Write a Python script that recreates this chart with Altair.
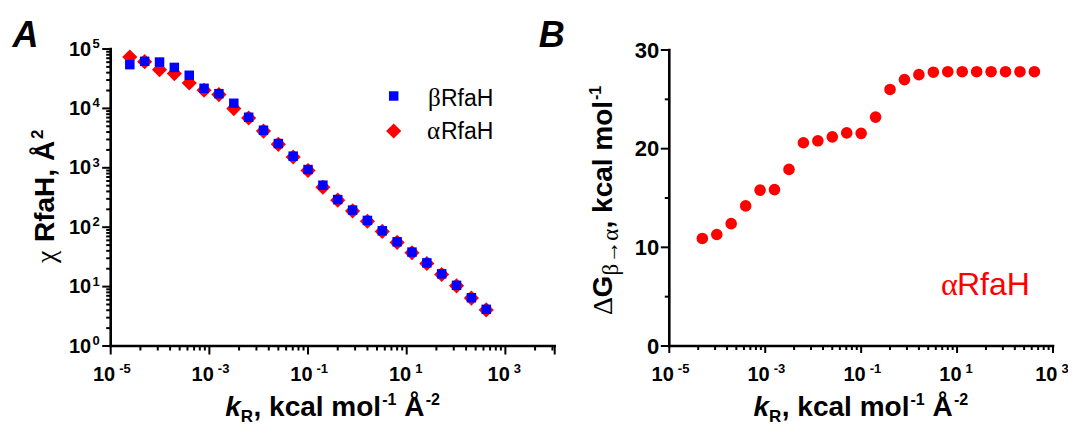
import altair as alt
import pandas as pd

# ---------------- data ----------------
kR = [2.44e-5, 4.88e-5, 9.77e-5, 1.95e-4, 3.91e-4, 7.81e-4, 1.56e-3, 3.13e-3,
      6.25e-3, 0.0125, 0.025, 0.05, 0.1, 0.2, 0.4, 0.8, 1.6, 3.2, 6.4, 12.8,
      25.6, 51.2, 102.4, 204.8, 409.6]
chi_beta = [54500, 62000, 60300, 49000, 36100, 21800, 17700, 12200, 7100, 4290,
            2560, 1570, 935, 510, 292, 194, 130, 87, 56.8, 38.1, 25.1, 16.4,
            10.5, 6.5, 4.14]
chi_alpha = [73300, 61200, 44900, 38500, 26800, 20200, 17100, 9930, 6900, 4150,
             2480, 1520, 900, 470, 285, 188, 126, 85, 55.5, 37.2, 24.5, 16.0,
             10.3, 6.4, 4.05]
kR_B = [4.88e-5, 9.77e-5, 1.95e-4, 3.91e-4, 7.81e-4, 1.56e-3, 3.13e-3,
        6.25e-3, 0.0125, 0.025, 0.05, 0.1, 0.2, 0.4, 0.8, 1.6, 3.2, 6.4, 12.8,
        25.6, 51.2, 102.4, 204.8, 409.6]
dG_alpha = [10.9, 11.3, 12.4, 14.2, 15.8, 15.85, 17.9, 20.6, 20.8, 21.2, 21.6,
            21.55, 23.2, 26.0, 27.0, 27.5, 27.75, 27.8, 27.8, 27.8, 27.8, 27.8,
            27.8, 27.8]

# tick values / labels
x_lab_vals = [1e-5, 1e-3, 1e-1, 1e1, 1e3]
x_lab_exp = ["-5", "-3", "-1", "1", "3"]
xA_major = [1e-5, 1e-3, 1e-1, 1e1, 1e3, 1e4]
xB_major = [1e-5, 1e-3, 1e-1, 1e1, 1e3]
minor_mult = [4, 9, 16, 25, 36, 49, 64, 81]
xA_minor = [b * m for b in [1e-5, 1e-3, 1e-1, 1e1, 1e3] for m in minor_mult if b * m < 1e4]
xB_minor = [b * m for b in [1e-5, 1e-3, 1e-1, 1e1] for m in minor_mult]
yA_major = [1, 10, 100, 1e3, 1e4, 1e5]
yA_exp = ["0", "1", "2", "3", "4", "5"]
yA_minor = [b * m for b in [1, 10, 100, 1e3, 1e4] for m in range(2, 10)]
yB_major = [0, 10, 20, 30]
yB_lab = ["0", "10", "20", "30"]
yB_minor = [5, 15, 25]

SANS = "Liberation Sans"
SERIF = "Liberation Serif"
RED = "#ff0000"
BLUE = "#0000ff"

# ---------------- scales (pixel ranges) ----------------
xA0, xA1, yA0, yA1 = 102.7, 546.7, 338, 41
xB0, xB1, yB0, yB1 = 661.3, 1045, 338, 42
xsA = alt.Scale(type="log", domain=[1e-5, 1e4], range=[xA0, xA1], nice=False)
ysA = alt.Scale(type="log", domain=[1, 1e5], range=[yA0, yA1], nice=False)
xsB = alt.Scale(type="log", domain=[1e-5, 1e3], range=[xB0, xB1], nice=False)
ysB = alt.Scale(type="linear", domain=[0, 30], range=[yB0, yB1], nice=False, zero=False)


def X(f, sc):
    return alt.X(f"{f}:Q", scale=sc, axis=None)


def Y(f, sc):
    return alt.Y(f"{f}:Q", scale=sc, axis=None)


def txt(s, x, y, size, weight="bold", font=SANS, style="normal", angle=0,
        color="black", align="left"):
    return alt.Chart(pd.DataFrame({"t": [s]})).mark_text(
        font=font, fontSize=size, fontWeight=weight, fontStyle=style,
        angle=angle, align=align, baseline="alphabetic", color=color
    ).encode(text="t:N", x=alt.value(x), y=alt.value(y))


def xticks(vals, sc, y0, ln, w=2):
    return alt.Chart(pd.DataFrame({"v": vals})).mark_rule(
        color="black", strokeWidth=w).encode(
        x=X("v", sc), y=alt.value(y0), y2=alt.value(y0 + ln))


def yticks(vals, sc, x0, ln, w=2):
    return alt.Chart(pd.DataFrame({"v": vals})).mark_rule(
        color="black", strokeWidth=w).encode(
        y=Y("v", sc), x=alt.value(x0 - ln), x2=alt.value(x0))


def xaxis_line(a, b, sc, y0):
    return alt.Chart(pd.DataFrame({"a": [a], "b": [b]})).mark_rule(
        color="black", strokeWidth=2.6, strokeCap="square").encode(
        x=X("a", sc), x2="b:Q", y=alt.value(y0))


def yaxis_line(a, b, sc, x0):
    return alt.Chart(pd.DataFrame({"a": [a], "b": [b]})).mark_rule(
        color="black", strokeWidth=2.6, strokeCap="square").encode(
        y=Y("a", sc), y2="b:Q", x=alt.value(x0))


def xlabels(sc, ybase):
    d = pd.DataFrame({"v": x_lab_vals, "e": x_lab_exp})
    base = alt.Chart(d).mark_text(font=SANS, fontSize=20, fontWeight="bold",
                                  align="right", baseline="alphabetic", dx=4.5).encode(
        x=X("v", sc), y=alt.value(ybase + 35), text=alt.value("10"))
    sup = alt.Chart(d).mark_text(font=SANS, fontSize=13, fontWeight="bold",
                                 align="left", baseline="alphabetic", dx=8.5).encode(
        x=X("v", sc), y=alt.value(ybase + 26.5), text="e:N")
    return [base, sup]


def xtitle(S, yb):
    return [
        txt("k", S, yb, 28, style="italic"),
        txt("R", S + 15.5, yb + 6, 17),
        txt(", kcal mol", S + 28.3, yb, 28),
        txt("-1", S + 157, yb - 11, 16),
        txt("\u00c5", S + 179, yb, 28),
        txt("-2", S + 200.5, yb - 11, 16),
    ]


layers = []

# ======== Panel A ========
layers += [
    xaxis_line(1e-5, 1e4, xsA, yA0),
    yaxis_line(1, 1e5, ysA, xA0),
    xticks(xA_minor, xsA, yA0, 4.5),
    xticks(xA_major, xsA, yA0, 8.5),
    yticks(yA_minor, ysA, xA0, 4.5),
    yticks(yA_major, ysA, xA0, 8.5),
]
layers += xlabels(xsA, yA0)
dyA = pd.DataFrame({"v": yA_major, "e": yA_exp})
layers += [
    alt.Chart(dyA).mark_text(font=SANS, fontSize=20, fontWeight="bold",
                             align="right", baseline="alphabetic", dy=6.5).encode(
        y=Y("v", ysA), x=alt.value(xA0 - 19.5), text=alt.value("10")),
    alt.Chart(dyA).mark_text(font=SANS, fontSize=13, fontWeight="bold",
                             align="right", baseline="alphabetic", dy=-1).encode(
        y=Y("v", ysA), x=alt.value(xA0 - 11), text="e:N"),
]
dA = pd.DataFrame({"k": kR, "b": chi_beta, "a": chi_alpha})
layers += [
    alt.Chart(dA).mark_point(shape="diamond", filled=True, size=230, opacity=1,
                             color=RED, strokeWidth=0).encode(
        x=X("k", xsA), y=Y("a", ysA)),
    alt.Chart(dA).mark_point(shape="square", filled=True, size=90, opacity=1,
                             color=BLUE, strokeWidth=0).encode(
        x=X("k", xsA), y=Y("b", ysA)),
]
# legend
layers += [
    alt.Chart(pd.DataFrame({"t": ["\u03b2RfaH"]})).mark_point(
        shape="square", filled=True, size=90, opacity=1, color=BLUE, strokeWidth=0).encode(
        x=alt.value(385.7), y=alt.value(88)),
    alt.Chart(pd.DataFrame({"t": ["\u03b1RfaH"]})).mark_point(
        shape="diamond", filled=True, size=230, opacity=1, color=RED, strokeWidth=0).encode(
        x=alt.value(385.7), y=alt.value(123)),
    txt("\u03b2", 420, 98, 25, weight="normal", font=SERIF),
    txt("RfaH", 433, 98, 23, weight="normal"),
    txt("\u03b1", 419, 131.3, 25, weight="normal", font=SERIF),
    txt("RfaH", 433, 131.3, 23, weight="normal"),
]
# titles
layers += xtitle(217.2, 408)
layers += [
    txt("\u03c7", 46.5, 255, 28, weight="normal", font=SERIF, angle=270),
    txt("RfaH, \u00c5", 45.7, 234, 28, angle=270),
    txt("2", 34.5, 131, 17, angle=270),
    txt("A", 4.5, 38.7, 36, style="italic"),
]

# ======== Panel B ========
layers += [
    xaxis_line(1e-5, 1e3, xsB, yB0),
    yaxis_line(0, 30, ysB, xB0),
    xticks(xB_minor, xsB, yB0, 4),
    xticks(xB_major, xsB, yB0, 7),
    yticks(yB_minor, ysB, xB0, 4.5),
    yticks(yB_major, ysB, xB0, 8.5),
]
layers += xlabels(xsB, yB0)
layers += [
    alt.Chart(pd.DataFrame({"v": yB_major, "t": yB_lab})).mark_text(
        font=SANS, fontSize=22, fontWeight="bold", align="right",
        baseline="alphabetic", dy=7.5).encode(
        y=Y("v", ysB), x=alt.value(xB0 - 10), text="t:N"),
]
dB = pd.DataFrame({"k": kR_B, "g": dG_alpha})
layers += [
    alt.Chart(dB).mark_point(shape="circle", filled=True, size=135, opacity=1,
                             color=RED, strokeWidth=0).encode(
        x=X("k", xsB), y=Y("g", ysB)),
]
layers += xtitle(745.5, 408)
layers += [
    txt("\u0394", 604, 307, 28, weight="normal", font=SERIF, angle=270),
    txt("G", 604, 289.5, 28, angle=270),
    txt("\u03b2\u2192\u03b1", 610, 267.5, 23, weight="normal", font=SERIF, angle=270),
    txt(", kcal mol", 604, 220.5, 28, angle=270),
    txt("-1", 593, 92, 16, angle=270),
    txt("B", 530.7, 38.7, 36, style="italic"),
    txt("\u03b1", 933, 287, 32, weight="normal", font=SERIF, color=RED),
    txt("RfaH", 949, 287, 32, weight="normal", color=RED),
]

chart = alt.layer(*layers).resolve_scale(
    x="independent", y="independent"
).properties(
    width=1060, height=418,
    autosize=alt.AutoSizeParams(type="none"),
    padding={"left": 0, "top": 0, "right": 0, "bottom": 0},
).configure_view(stroke=None)

chart.save("out.html", embed_options={"renderer": "svg", "actions": False})
